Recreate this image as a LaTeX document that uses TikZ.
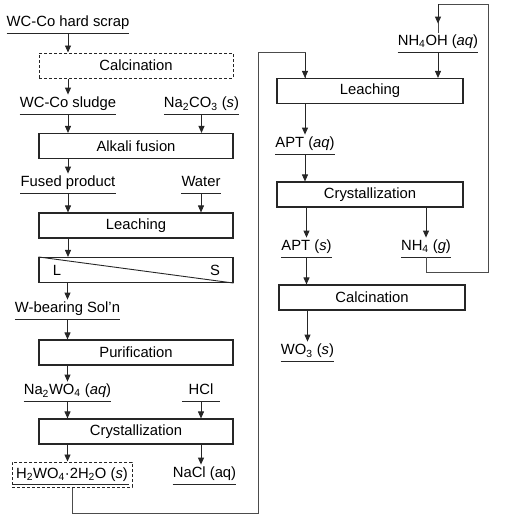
\documentclass[tikz,border=0pt]{standalone}
\usepackage{fontspec}
\setmainfont{Liberation Sans}
\usetikzlibrary{arrows.meta,calc}
\begin{document}
\begin{tikzpicture}[x=1pt,y=-1pt,
  every node/.style={font=\fontsize{14.8}{17}\selectfont},
  box/.style={draw=black!85, line width=1.1pt, minimum height=25pt, inner sep=0pt},
  lbox/.style={box, minimum width=194pt},
  rbox/.style={box, minimum width=186pt},
  dbox/.style={box, dash pattern=on 3pt off 2pt, line width=1pt},
  lbl/.style={inner xsep=0pt, inner ysep=2pt, text height=11pt, text depth=4pt, anchor=south, minimum width=#1},
  uline/.style={draw=black!85, line width=1pt},
  arr/.style={draw=black!85, line width=0.9pt, -{Triangle[width=6pt,length=7pt]}},
  fb/.style={draw=black!70, line width=0.9pt}
]
\useasboundingbox (0,0) rectangle (505,522);

% ---- left column ----
\node[lbl=110] (scrap) at (68,33) {WC-Co hard scrap};
\node[lbox, dbox, minimum width=194pt] (calc1) at (136,65.5) {Calcination};
\node[lbl=90] (sludge) at (68,114) {WC-Co sludge};
\node[lbl=67] (naco) at (201.5,114) {Na\textsubscript{2}CO\textsubscript{3} (\textit{s})};
\node[lbox] (alk) at (136,146) {Alkali fusion};
\node[lbl=90] (fused) at (68,193) {Fused product};
\node[lbl=38] (water) at (201,193) {Water};
\node[lbox] (leach1) at (136,225.5) {Leaching};
\node[lbox] (ls) at (136,270) {};
\node (lL) at (57,270) {L};
\node (lS) at (215,270) {S};
\node[lbl=101] (wsol) at (67.5,319) {W-bearing Sol'n};
\node[lbox] (pur) at (136,352.5) {Purification};
\node[lbl=79] (nawo) at (67.5,401) {Na\textsubscript{2}WO\textsubscript{4} (\textit{aq})};
\node[lbl=38] (hcl) at (201,401) {HCl};
\node[lbox] (crys1) at (136,431.5) {Crystallization};
\node[dbox, minimum width=120pt, minimum height=25pt] (h2) at (72,474.5) {H\textsubscript{2}WO\textsubscript{4}·2H\textsubscript{2}O (\textit{s})};
\node[lbl=57] (nacl) at (204.5,484) {NaCl (aq)};

% ---- right column ----
\node[lbl=74] (nh4oh) at (438,52) {NH\textsubscript{4}OH (\textit{aq})};
\node[rbox] (leach2) at (370,91) {Leaching};
\node[lbl=58] (aptaq) at (305,154) {APT (\textit{aq})};
\node[rbox] (crys2) at (370,194.5) {Crystallization};
\node[lbl=51] (apts) at (306.5,257) {APT (\textit{s})};
\node[lbl=46] (nh4g) at (426,257) {NH\textsubscript{4} (\textit{g})};
\node[rbox] (calc2) at (372,297.5) {Calcination};
\node[lbl=51] (wo3) at (307.5,361) {WO\textsubscript{3} (\textit{s})};

% underlines
\foreach \n in {scrap,sludge,naco,fused,water,wsol,nawo,hcl,nacl,nh4oh,aptaq,apts,nh4g,wo3}
  \draw[uline] (\n.south west) -- (\n.south east);
\draw[uline] ([shift={(1,-3)}]h2.south west) -- ([shift={(-4,-3)}]h2.south east);

% L/S divider
\draw[line width=0.9pt, draw=black!85] (ls.north west) -- (ls.south east);

% coordinates for feedback loops
\coordinate (fbBot) at (258,513);
\coordinate (fbTop) at (258,52);
\coordinate (fbR) at (488,272);
\coordinate (fbRtop) at (488,4);

% ---- arrows, left ----
\draw[arr] (scrap.south) -- (scrap.south |- calc1.north);
\draw[arr] (calc1.south -| sludge) -- (sludge.north);
\draw[arr] (sludge.south) -- (sludge.south |- alk.north);
\draw[arr] (naco.south) -- (naco.south |- alk.north);
\draw[arr] (alk.south -| fused) -- (fused.north);
\draw[arr] (fused.south) -- (fused.south |- leach1.north);
\draw[arr] (water.south) -- (water.south |- leach1.north);
\draw[arr] (leach1.south -| fused) -- (ls.north -| fused);
\draw[arr] (ls.south -| wsol) -- (wsol.north);
\draw[arr] (wsol.south) -- (wsol.south |- pur.north);
\draw[arr] (pur.south -| nawo) -- (nawo.north);
\draw[arr] (nawo.south) -- (nawo.south |- crys1.north);
\draw[arr] (hcl.south) -- (hcl.south |- crys1.north);
\draw[arr] (crys1.south -| nawo) -- (h2.north -| nawo);
\draw[arr] (crys1.south -| hcl) -- (nacl.north -| hcl);

% ---- feedback from H2WO4 to leaching ----
\draw[fb] (h2.south) |- (fbBot) -- (fbTop) -| (aptaq.north |- leach2.north);
\draw[arr] ([yshift=-1pt]aptaq.north |- fbTop) -- (aptaq.north |- leach2.north);

% ---- arrows, right ----
\draw[arr] (nh4oh.south) -- (nh4oh.south |- leach2.north);
\draw[arr] (leach2.south -| aptaq) -- (aptaq.north);
\draw[arr] (aptaq.south) -- (aptaq.south |- crys2.north);
\draw[arr] (crys2.south -| apts) -- (apts.north);
\draw[arr] (crys2.south -| nh4g) -- (nh4g.north);
\draw[arr] (apts.south) -- (apts.south |- calc2.north);
\draw[arr] (calc2.south -| wo3) -- (wo3.north);

% ---- NH4 recycle loop ----
\draw[fb] (nh4g.south) |- (fbR) -- (fbRtop) -| (nh4oh.north);
\draw[arr, shorten >=9pt] (nh4oh.north |- fbRtop) -- (nh4oh.north);
\end{tikzpicture}
\end{document}
